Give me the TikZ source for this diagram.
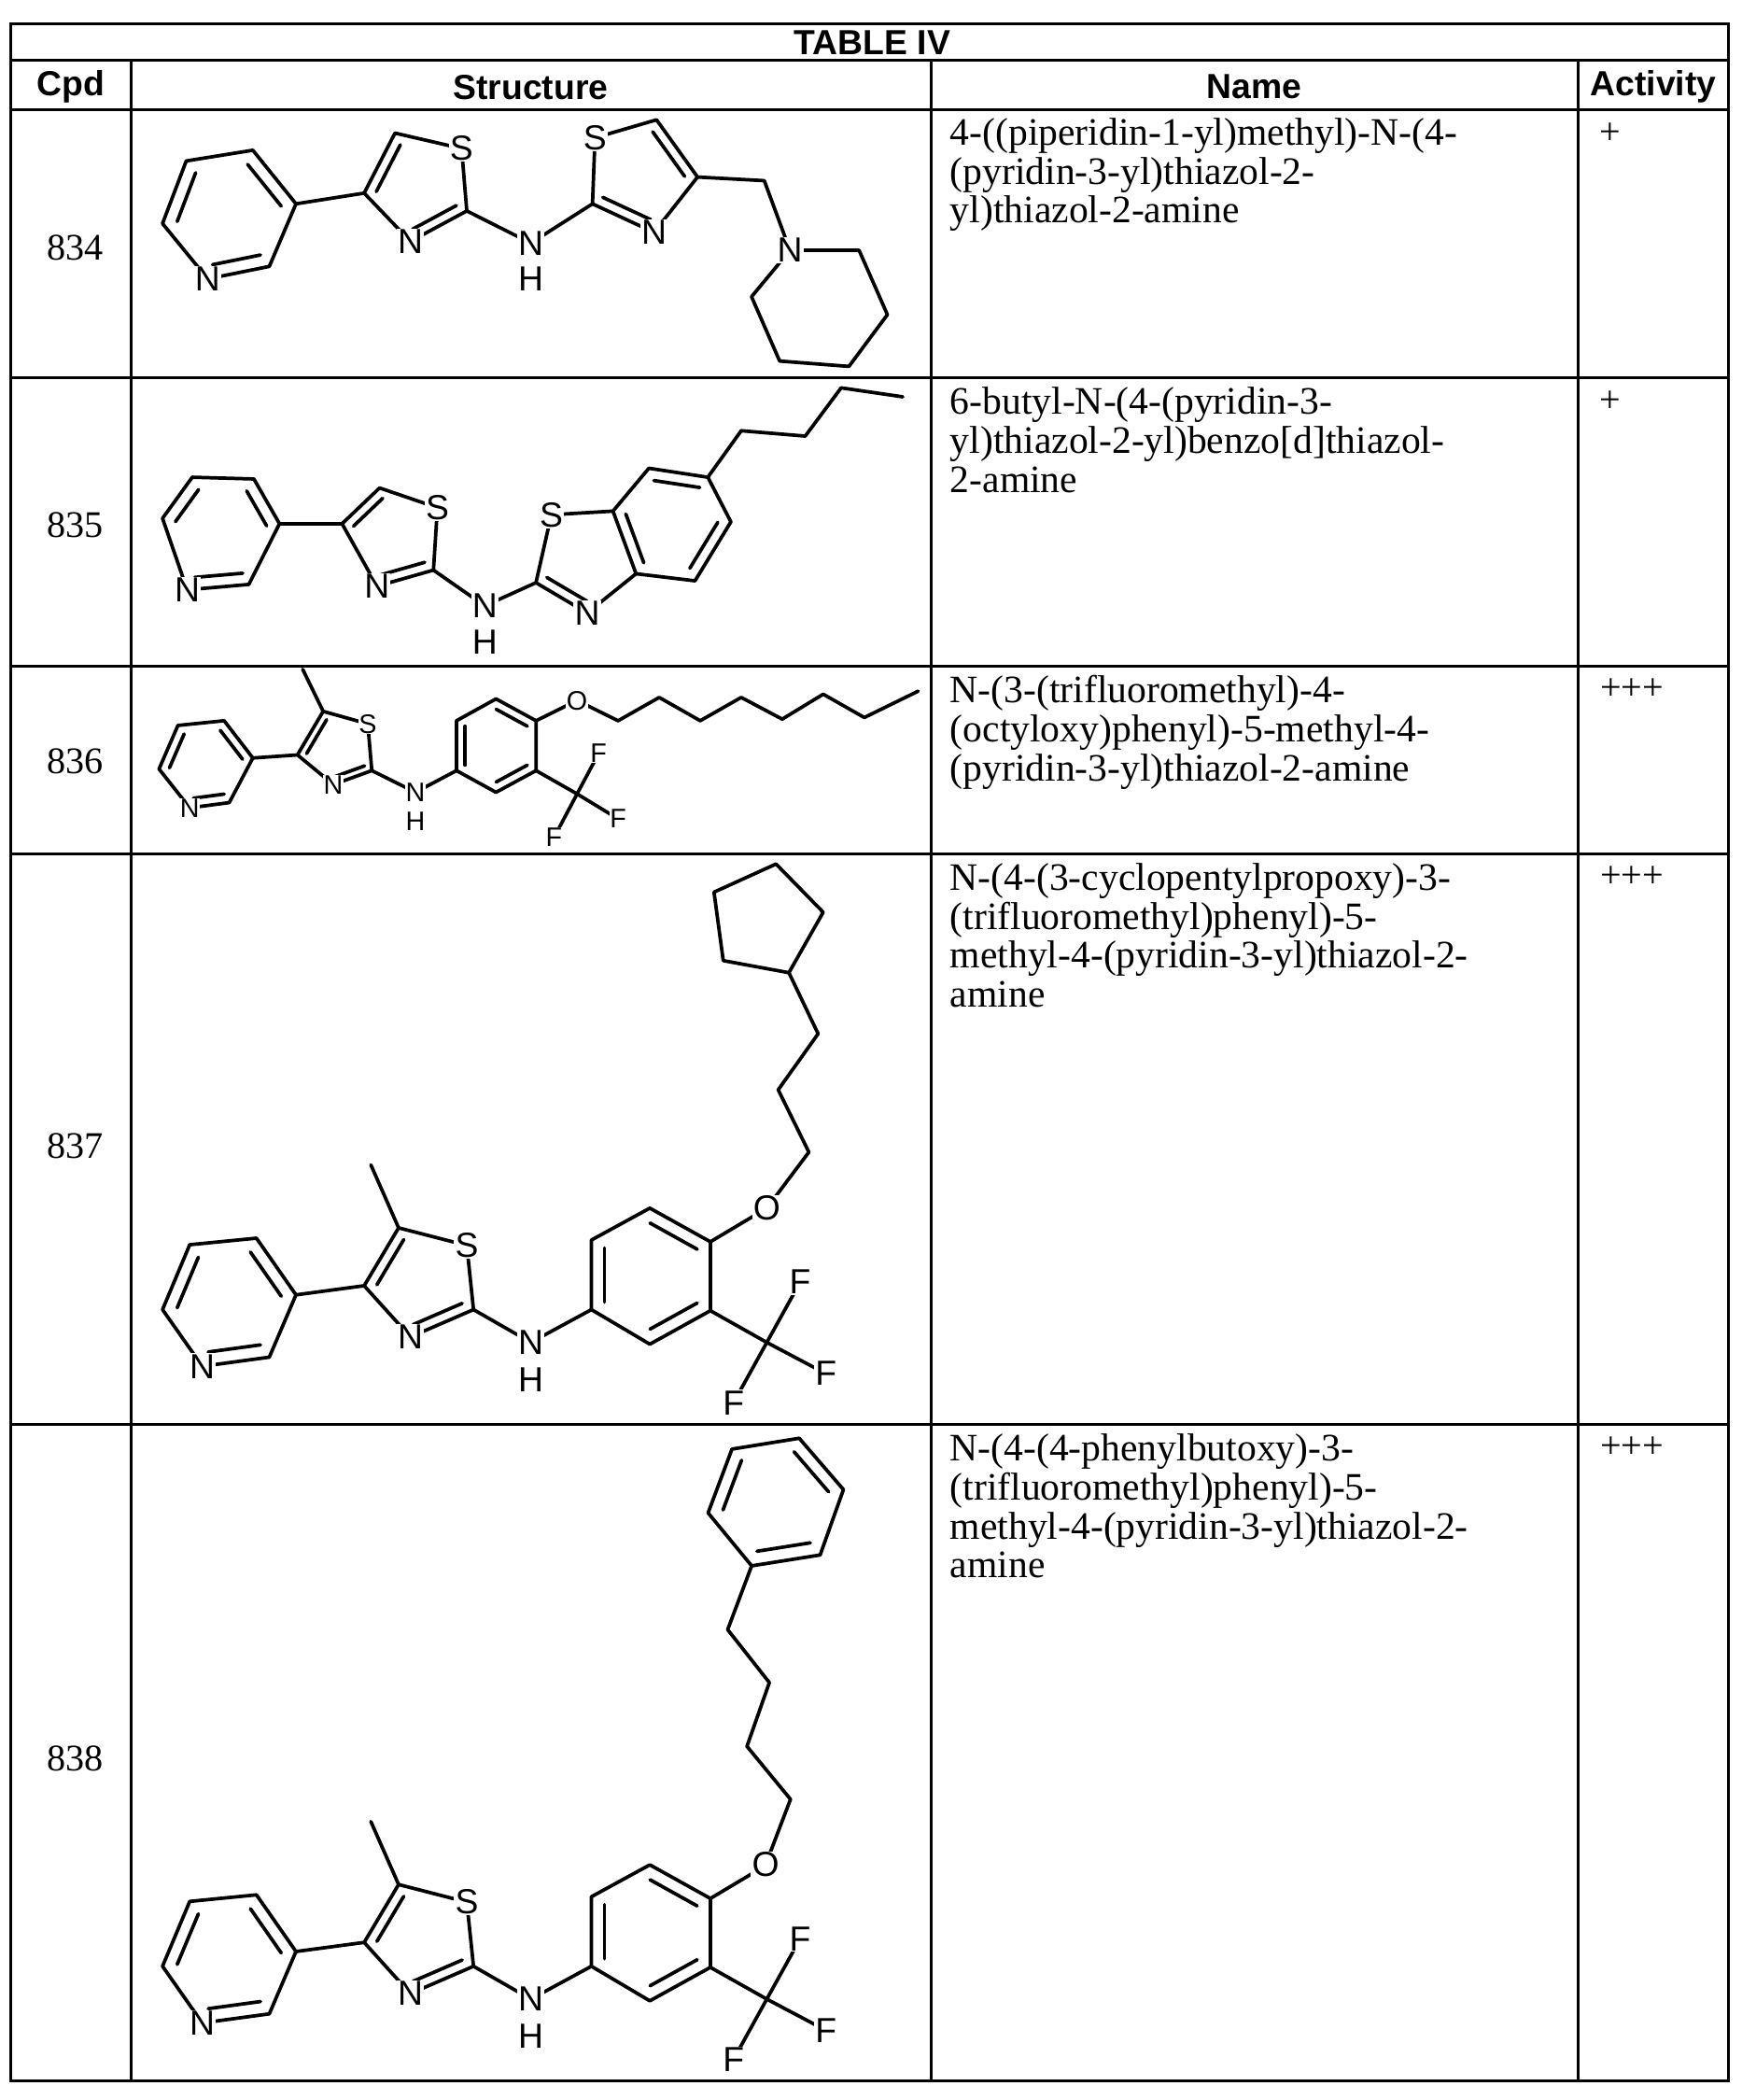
\documentclass[tikz,border=0pt]{standalone}
\usepackage{fontspec}
\setmainfont{Liberation Serif}
\newfontfamily\arialf{Liberation Sans}
\usetikzlibrary{calc}
\newcommand\atomfont{\arialf\fontsize{26}{26}\selectfont}
\newcommand\atomsmall{\arialf\fontsize{20}{20}\selectfont}
\newcommand\dbl[3]{\draw[bond] ($(#1)!0.22!(#3)$) -- ($(#2)!0.22!(#3)$);}
\newcommand\corebody{%
 \coordinate (p1) at (141.6,928.8); \coordinate (p2) at (191.4,923.9); \coordinate (p3) at (220.9,966.2);
 \coordinate (p4) at (201,1012.7); \coordinate (pN) at (151,1019.5); \coordinate (p6) at (121.3,977.2);
 \coordinate (pc) at (171,971);
 \coordinate (t4) at (271.8,959.4); \coordinate (t5) at (297.5,916.2); \coordinate (tS) at (348.4,929.3);
 \coordinate (t2) at (353.4,977.2); \coordinate (tN) at (306.3,997.6); \coordinate (tc) at (315,956);
 \coordinate (me) at (276.8,869.2); \coordinate (nh) at (396.2,1001.7);
 \coordinate (b1) at (441.4,977.2); \coordinate (b2) at (441.4,925.3); \coordinate (b3) at (485,901.5);
 \coordinate (b4) at (530.2,926.6); \coordinate (b5) at (530.2,978); \coordinate (b6) at (485,1003);
 \coordinate (bc) at (485.6,952);
 \coordinate (O) at (572.3,901.5); \coordinate (cf) at (572.3,1001.7);
 \coordinate (F1) at (597.2,956.7); \coordinate (F2) at (616.4,1025); \coordinate (F3) at (547.4,1046.8);
 \draw[bond] (p1)--(p2)--(p3)--(p4)--(pN)--(p6)--cycle;
 \dbl{p6}{p1}{pc} \dbl{p2}{p3}{pc} \dbl{p4}{pN}{pc}
 \draw[bond] (p3)--(t4)--(t5)--(tS)--(t2)--(tN)--(t4);
 \dbl{t4}{t5}{tc} \dbl{t2}{tN}{tc}
 \draw[bond] (t5)--(me);
 \draw[bond] (t2)--(nh)--(b1);
 \draw[bond] (b1)--(b2)--(b3)--(b4)--(b5)--(b6)--cycle;
 \dbl{b1}{b2}{bc} \dbl{b3}{b4}{bc} \dbl{b5}{b6}{bc}
 \draw[bond] (b4)--(O); \draw[bond] (b5)--(cf) (cf)--(F1) (cf)--(F2) (cf)--(F3);
 \node[atom] (aN1) at (pN) {N}; \node[atom] (aS1) at (tS) {S}; \node[atom] (aN2) at (tN) {N};
 \node[atom] (aNH) at (nh) {N}; \node[atom] (aH) at ($(nh)+(0,28)$) {H};
 \node[atom] (aF1) at (F1) {F}; \node[atom] (aF2) at (F2) {F}; \node[atom] (aF3) at (F3) {F};
}
\begin{document}
\begin{tikzpicture}[x=1pt,y=-1pt,
  bond/.style={line width=2.6pt,line cap=round,line join=round},
  atom/.style={font=\atomfont,fill=white,inner sep=0.8pt},
  atoms/.style={font=\atomsmall,fill=white,inner sep=0.5pt},
  grid/.style={line width=2pt},
  hdr/.style={font=\arialf\bfseries\fontsize{26}{26}\selectfont},
  cpd/.style={font=\fontsize{28}{28}\selectfont},
  nm/.style={font=\fontsize{29}{29}\selectfont,anchor=north west,align=left,text width=470pt,inner sep=0pt},
  act/.style={font=\fontsize{28}{28}\selectfont}]
\useasboundingbox[fill=white] (0,0) rectangle (1300,1567);
% table grid
\draw[grid] (8,18) rectangle (1290,1553);
\foreach \y in {45,82,282,497,637,1063} \draw[grid] (8,\y)--(1290,\y);
\foreach \x in {98,695,1178} \draw[grid] (\x,45)--(\x,1553);
% headers
\node[hdr] (title) at (651,32) {TABLE IV};
\node[hdr] (hc) at (53,65) {Cpd};
\node[hdr] (hs) at (396,65) {Structure};
\node[hdr] (hn) at (936,65) {Name};
\node[hdr] (ha) at (1234,65) {Activity};
% numbers
\node[cpd] (c834) at (56,185) {834};
\node[cpd] (c835) at (56,392) {835};
\node[cpd] (c836) at (56,568) {836};
\node[cpd] (c837) at (56,855) {837};
\node[cpd] (c838) at (56,1312) {838};
% names
\node[nm] (n834) at (709,88) {4-((piperidin-1-yl)methyl)-N-(4-\\(pyridin-3-yl)thiazol-2-\\yl)thiazol-2-amine};
\node[nm] (n835) at (709,289) {6-butyl-N-(4-(pyridin-3-\\yl)thiazol-2-yl)benzo[d]thiazol-\\2-amine};
\node[nm] (n836) at (709,504) {N-(3-(trifluoromethyl)-4-\\(octyloxy)phenyl)-5-methyl-4-\\(pyridin-3-yl)thiazol-2-amine};
\node[nm] (n837) at (709,644) {N-(4-(3-cyclopentylpropoxy)-3-\\(trifluoromethyl)phenyl)-5-\\methyl-4-(pyridin-3-yl)thiazol-2-\\amine};
\node[nm] (n838) at (709,1070) {N-(4-(4-phenylbutoxy)-3-\\(trifluoromethyl)phenyl)-5-\\methyl-4-(pyridin-3-yl)thiazol-2-\\amine};
% activity
\node[act] (a834) at (1202,100) {+};
\node[act] (a835) at (1202,300) {+};
\node[act] (a836) at (1218,514) {+++};
\node[act] (a837) at (1218,654) {+++};
\node[act] (a838) at (1218,1080) {+++};
% ---------- 834
\begin{scope}
 \coordinate (q1) at (139,120.1); \coordinate (q2) at (188.7,112.1); \coordinate (q3) at (220.9,152.1);
 \coordinate (q4) at (201,198.8); \coordinate (qN) at (155,208.1); \coordinate (q6) at (121.3,166.8); \coordinate (qc) at (171,160);
 \coordinate (r4) at (271.8,144.1); \coordinate (r5) at (294.8,99.3); \coordinate (rS) at (344.5,110.8);
 \coordinate (r2) at (348.4,157.4); \coordinate (rN) at (306.3,180.1); \coordinate (rc) at (313,139);
 \coordinate (nh) at (396.2,181.4);
 \coordinate (s2) at (442.2,152.1); \coordinate (sS) at (444.1,102.8); \coordinate (s5) at (490,89.4);
 \coordinate (s4) at (520.6,132.1); \coordinate (sN) at (488.1,173.4); \coordinate (sc) at (477,130);
 \coordinate (ch) at (570.4,134.8); \coordinate (pp1) at (589.6,186.8); \coordinate (pp2) at (641.2,186.8);
 \coordinate (pp3) at (662.3,234.8); \coordinate (pp4) at (633.6,273.4); \coordinate (pp5) at (581.9,269.4); \coordinate (pp6) at (560.9,221.4);
 \draw[bond] (q1)--(q2)--(q3)--(q4)--(qN)--(q6)--cycle;
 \dbl{q6}{q1}{qc} \dbl{q2}{q3}{qc} \dbl{q4}{qN}{qc}
 \draw[bond] (q3)--(r4)--(r5)--(rS)--(r2)--(rN)--(r4);
 \dbl{r4}{r5}{rc} \dbl{r2}{rN}{rc}
 \draw[bond] (r2)--(nh)--(s2)--(sS)--(s5)--(s4)--(sN)--(s2);
 \dbl{s5}{s4}{sc} \dbl{s2}{sN}{sc}
 \draw[bond] (s4)--(ch)--(pp1)--(pp2)--(pp3)--(pp4)--(pp5)--(pp6)--(pp1);
 \node[atom] (x1) at (qN) {N}; \node[atom] (x2) at (rS) {S}; \node[atom] (x3) at (rN) {N};
 \node[atom] (x4) at (nh) {N}; \node[atom] (x5) at ($(nh)+(0,27)$) {H};
 \node[atom] (x6) at (sS) {S}; \node[atom] (x7) at (sN) {N}; \node[atom] (x8) at (pp1) {N};
\end{scope}
% ---------- 835
\begin{scope}
 \coordinate (q1) at (143.5,356.1); \coordinate (q2) at (189.5,357.4); \coordinate (q3) at (208.6,390.8);
 \coordinate (q4) at (185.7,436.1); \coordinate (qN) at (139.7,440.1); \coordinate (q6) at (121.3,386.8); \coordinate (qc) at (165,398);
 \coordinate (r4) at (255.3,390.8); \coordinate (r5) at (283.3,364.1); \coordinate (rS) at (326.5,378.8);
 \coordinate (r2) at (323.5,425.4); \coordinate (rN) at (281.4,437.4); \coordinate (rc) at (294,399);
 \coordinate (nh) at (361.8,452.1);
 \coordinate (s2) at (400,434.8); \coordinate (sS) at (411.5,384.1); \coordinate (s7a) at (457.5,381.4);
 \coordinate (s3a) at (474.7,428.1); \coordinate (sN) at (438.3,457.4); \coordinate (sc) at (437,417);
 \coordinate (s7) at (484.3,349.4); \coordinate (s6) at (528.3,356.1); \coordinate (s5) at (545.5,389.4);
 \coordinate (s4) at (518.7,433.4); \coordinate (bc) at (501,391);
 \coordinate (u1) at (553.2,321.4); \coordinate (u2) at (601,325.4); \coordinate (u3) at (627.8,289.4); \coordinate (u4) at (673.8,296.1);
 \draw[bond] (q1)--(q2)--(q3)--(q4)--(qN)--(q6)--cycle;
 \dbl{q6}{q1}{qc} \dbl{q2}{q3}{qc} \dbl{q4}{qN}{qc}
 \draw[bond] (q3)--(r4)--(r5)--(rS)--(r2)--(rN)--(r4);
 \dbl{r4}{r5}{rc} \dbl{r2}{rN}{rc}
 \draw[bond] (r2)--(nh)--(s2)--(sS)--(s7a)--(s3a)--(sN)--(s2);
 \dbl{s2}{sN}{sc}
 \draw[bond] (s7a)--(s7)--(s6)--(s5)--(s4)--(s3a);
 \dbl{s7a}{s3a}{bc} \dbl{s7}{s6}{bc} \dbl{s5}{s4}{bc}
 \draw[bond] (s6)--(u1)--(u2)--(u3)--(u4);
 \node[atom] (y1) at (qN) {N}; \node[atom] (y2) at (rS) {S}; \node[atom] (y3) at (rN) {N};
 \node[atom] (y4) at (nh) {N}; \node[atom] (y5) at ($(nh)+(0,27)$) {H};
 \node[atom] (y6) at (sS) {S}; \node[atom] (y7) at (sN) {N};
\end{scope}
% ---------- 836
\begin{scope}
 \coordinate (q1) at (132.8,541.3); \coordinate (q2) at (167.3,537.8); \coordinate (q3) at (188.7,565.6);
 \coordinate (q4) at (171.1,598.9); \coordinate (qN) at (141.6,602.8); \coordinate (q6) at (118.7,573.8); \coordinate (qc) at (154,570);
 \coordinate (r4) at (222,563.3); \coordinate (r5) at (241.2,530.8); \coordinate (rS) at (274.5,540.1);
 \coordinate (r2) at (277.5,575); \coordinate (rN) at (248.8,585.4); \coordinate (rc) at (253,559);
 \coordinate (me) at (225.9,499.4); \coordinate (nh) at (310.1,591.2);
 \coordinate (b1) at (340.7,575); \coordinate (b2) at (340.7,537.8); \coordinate (b3) at (370.2,521.5);
 \coordinate (b4) at (400.1,537.8); \coordinate (b5) at (400.1,575); \coordinate (b6) at (370.2,591.2); \coordinate (bc) at (370.4,556.4);
 \coordinate (O) at (430.7,522.7);
 \coordinate (k1) at (461.3,537.8); \coordinate (k2) at (492,520.4); \coordinate (k3) at (522.6,537.8); \coordinate (k4) at (553.2,520.4);
 \coordinate (k5) at (583.8,536.6); \coordinate (k6) at (614.4,518); \coordinate (k7) at (645.1,535.4); \coordinate (k8) at (685.3,515.7);
 \coordinate (cf) at (430.7,592.4); \coordinate (F1) at (446.8,562.2); \coordinate (F2) at (461.3,611); \coordinate (F3) at (413.5,624.9);
 \draw[bond] (q1)--(q2)--(q3)--(q4)--(qN)--(q6)--cycle;
 \dbl{q6}{q1}{qc} \dbl{q2}{q3}{qc} \dbl{q4}{qN}{qc}
 \draw[bond] (q3)--(r4)--(r5)--(rS)--(r2)--(rN)--(r4);
 \dbl{r4}{r5}{rc} \dbl{r2}{rN}{rc}
 \draw[bond] (r5)--(me) (r2)--(nh)--(b1);
 \draw[bond] (b1)--(b2)--(b3)--(b4)--(b5)--(b6)--cycle;
 \dbl{b1}{b2}{bc} \dbl{b3}{b4}{bc} \dbl{b5}{b6}{bc}
 \draw[bond] (b4)--(O)--(k1)--(k2)--(k3)--(k4)--(k5)--(k6)--(k7)--(k8);
 \draw[bond] (b5)--(cf) (cf)--(F1) (cf)--(F2) (cf)--(F3);
 \node[atoms] (z1) at (qN) {N}; \node[atoms] (z2) at (rS) {S}; \node[atoms] (z3) at (rN) {N};
 \node[atoms] (z4) at (nh) {N}; \node[atoms] (z5) at ($(nh)+(0,22)$) {H}; \node[atoms] (z6) at (O) {O};
 \node[atoms] (z7) at (F1) {F}; \node[atoms] (z8) at (F2) {F}; \node[atoms] (z9) at (F3) {F};
\end{scope}
% ---------- 837
\begin{scope}
 \corebody
 \coordinate (c1) at (603.7,859.7); \coordinate (c2) at (580.8,813.2); \coordinate (c3) at (610.6,771.4);
 \coordinate (cp1) at (588.8,725.8); \coordinate (cp2) at (614.4,680.7); \coordinate (cp3) at (579.2,644.7);
 \coordinate (cp4) at (532.9,665.7); \coordinate (cp5) at (539.8,716.8);
 \draw[bond] (O)--(c1)--(c2)--(c3)--(cp1)--(cp2)--(cp3)--(cp4)--(cp5)--(cp1);
 \node[atom] (o837) at (O) {O};
\end{scope}
% ---------- 838
\begin{scope}[shift={(0,490)}]
 \corebody
\end{scope}
\begin{scope}
 \coordinate (O8) at (571.4,1391.4);
 \coordinate (d1) at (590,1342.6); \coordinate (d2) at (557.5,1303.1); \coordinate (d3) at (574.2,1255.5); \coordinate (d4) at (543.1,1216);
 \coordinate (h1) at (561,1168.4); \coordinate (h2) at (612.1,1160.3); \coordinate (h3) at (629.5,1111.5);
 \coordinate (h4) at (596.5,1073.2); \coordinate (h5) at (546.3,1081.3); \coordinate (h6) at (528.5,1128.9); \coordinate (hc) at (579,1119);
 \draw[bond] (O8)--(d1)--(d2)--(d3)--(d4)--(h1);
 \draw[bond] (h1)--(h2)--(h3)--(h4)--(h5)--(h6)--cycle;
 \dbl{h1}{h2}{hc} \dbl{h3}{h4}{hc} \dbl{h5}{h6}{hc}
 \node[atom] (o838) at (O8) {O};
\end{scope}
\end{tikzpicture}
\end{document}
